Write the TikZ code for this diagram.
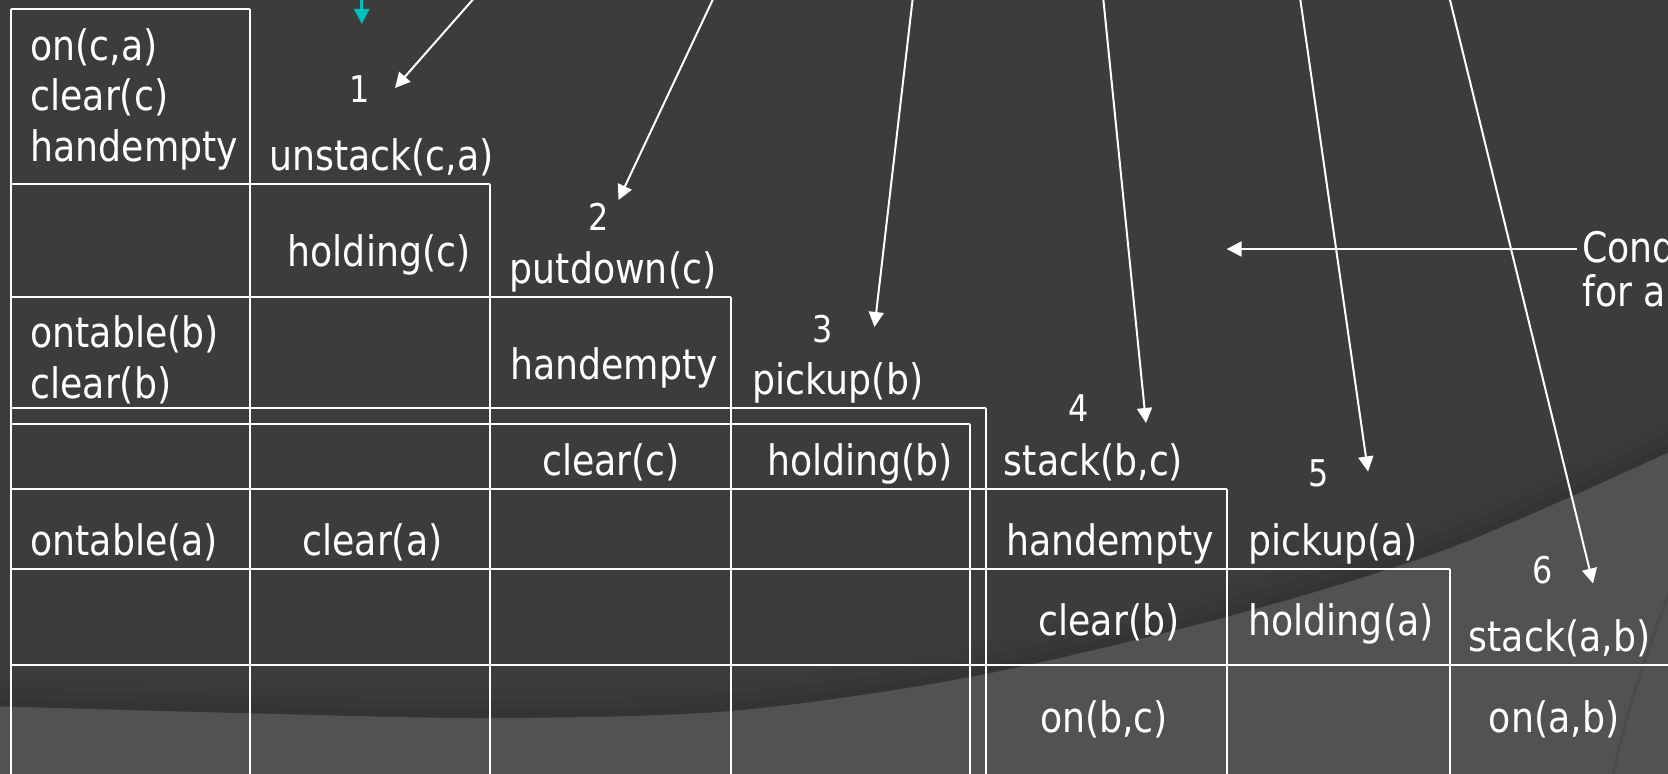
\documentclass[tikz,border=0pt]{standalone}
\usepackage{fontspec}
\setmainfont{DejaVu Sans}[FakeStretch=0.864]
\usetikzlibrary{arrows.meta}
\definecolor{slatebg}{RGB}{60,60,60}
\definecolor{slatelight}{RGB}{82,82,82}
\definecolor{tealmark}{RGB}{0,190,190}

\begin{document}
\begin{tikzpicture}[x=0.5pt,y=-0.5pt,
  gridline/.style={draw=white,line width=1pt},
  lbl/.style={text=white,inner sep=0pt,font=\fontsize{21pt}{25pt}\selectfont},
  num/.style={text=white,inner sep=0pt,font=\fontsize{18.4pt}{22pt}\selectfont},
  ptr/.style={draw=white,line width=1pt,-{Triangle[length=7.5pt,width=7.5pt]}},
]
\useasboundingbox (0,0) rectangle (1668,774);
\begin{scope}
\clip (0,0) rectangle (1668,774);

% slide background
\fill[slatebg] (0,0) rectangle (1668,774);
\fill[slatelight] plot[smooth] coordinates {(-10,706) (240,713) (489,718) (730,711) (970,677) (1226,617) (1450,548) (1680,447)} -- (1680,790) -- (-10,790) -- cycle;

% soft shadow along the rim of the lighter band
\begin{scope}
\clip plot[smooth] coordinates {(-10,706) (240,713) (489,718) (730,711) (970,677) (1226,617) (1450,548) (1680,447)} -- (1680,-10) -- (-10,-10) -- cycle;
\foreach \w/\o in {60/0.03,36/0.04,16/0.05}
  \draw[black,opacity=\o,line width=\w*0.5pt] plot[smooth] coordinates {(-10,706) (240,713) (489,718) (730,711) (970,677) (1226,617) (1450,548) (1680,447)};
\end{scope}

% faint second arc, lower right
\draw[black,opacity=0.08,line width=1.5pt] (1672,585) .. controls (1652,640) and (1628,700) .. (1612,780);

% staircase grid
\draw[gridline] (10.6,9) -- (250,9);
\draw[gridline] (10.6,184) -- (490.4,184);
\draw[gridline] (10.6,297) -- (730.8,297);
\draw[gridline] (10.6,408.5) -- (986.1,408.5);
\draw[gridline] (10.6,424.5) -- (970.2,424.5);
\draw[gridline] (10.6,489) -- (1226.6,489);
\draw[gridline] (10.6,569) -- (1450,569);
\draw[gridline] (10.6,665) -- (1680,665);
\draw[gridline] (10.6,9) -- (10.6,790);
\draw[gridline] (250,9) -- (250,790);
\draw[gridline] (490.4,184) -- (490.4,790);
\draw[gridline] (730.8,297) -- (730.8,790);
\draw[gridline] (986.1,408.5) -- (986.1,790);
\draw[gridline] (970.2,424.5) -- (970.2,790);
\draw[gridline] (1226.6,489) -- (1226.6,790);
\draw[gridline] (1450,569) -- (1450,790);

% initial state
\node[lbl,anchor=base west] (onca)   at (30,61)  {on(c,a)};
\node[lbl,anchor=base west] (clrc0)  at (30,111) {clear(c)};
\node[lbl,anchor=base west] (he0)    at (30,162) {handempty};
\node[lbl,anchor=base west] (otb)    at (30,348) {ontable(b)};
\node[lbl,anchor=base west] (clrb0)  at (30,399) {clear(b)};
\node[lbl,anchor=base west] (ota)    at (30,555) {ontable(a)};

% step 1
\node[num,anchor=base] (n1) at (359.5,103) {1};
\node[lbl,anchor=base] (a1) at (381.5,171) {unstack(c,a)};
\node[lbl,anchor=base] (hc) at (379,267) {holding(c)};
\node[lbl,anchor=base] (clra) at (372.5,555) {clear(a)};

% step 2
\node[num,anchor=base] (n2) at (599,231) {2};
\node[lbl,anchor=base] (a2) at (613,284) {putdown(c)};
\node[lbl,anchor=base] (he2) at (614,380) {handempty};
\node[lbl,anchor=base] (clrc) at (611,475) {clear(c)};

% step 3
\node[num,anchor=base] (n3) at (822.5,343) {3};
\node[lbl,anchor=base] (a3) at (838,395) {pickup(b)};
\node[lbl,anchor=base] (hb) at (860,475) {holding(b)};

% step 4
\node[num,anchor=base] (n4) at (1079,422) {4};
\node[lbl,anchor=base] (a4) at (1093.5,475) {stack(b,c)};
\node[lbl,anchor=base] (he4) at (1110,555) {handempty};
\node[lbl,anchor=base] (clrb) at (1109,635) {clear(b)};
\node[lbl,anchor=base] (onbc) at (1104,732) {on(b,c)};

% step 5
\node[num,anchor=base] (n5) at (1319,487) {5};
\node[lbl,anchor=base] (a5) at (1333,555) {pickup(a)};
\node[lbl,anchor=base] (ha) at (1341,635) {holding(a)};

% step 6
\node[num,anchor=base] (n6) at (1543,583) {6};
\node[lbl,anchor=base] (a6) at (1559.5,651) {stack(a,b)};
\node[lbl,anchor=base] (onab) at (1554,732) {on(a,b)};

% side note, running past the right edge
\node[lbl,anchor=base west,outer xsep=2.5pt] (cond) at (1577,263) {Conditions};
\node[lbl,anchor=base west] (foract) at (1582,307) {for action};
\coordinate (condtip) at (1226.6,249);
\draw[ptr] (cond.west |- condtip) -- (condtip);

% pointers coming down from above
\coordinate (s0) at (361.7,-4);  \coordinate (t0) at (361.7,24);
\draw[draw=tealmark,line width=1.4pt,-{Triangle[length=7.5pt,width=7.5pt]}] (s0) -- (t0);
\coordinate (s1) at (476,-4);    \coordinate (t1) at (395,88);
\coordinate (s2) at (714.5,-4);  \coordinate (t2) at (618.5,200);
\coordinate (s3) at (913,-4);    \coordinate (t3) at (874.5,327);
\coordinate (s4) at (1103,-4);   \coordinate (t4) at (1146,423);
\coordinate (s5) at (1299.8,-4); \coordinate (t5) at (1368,471.5);
\coordinate (s6) at (1449,-4);   \coordinate (t6) at (1593,583.5);
\foreach \k in {1,...,6} \draw[ptr] (s\k) -- (t\k);
\end{scope}
\end{tikzpicture}
\end{document}
